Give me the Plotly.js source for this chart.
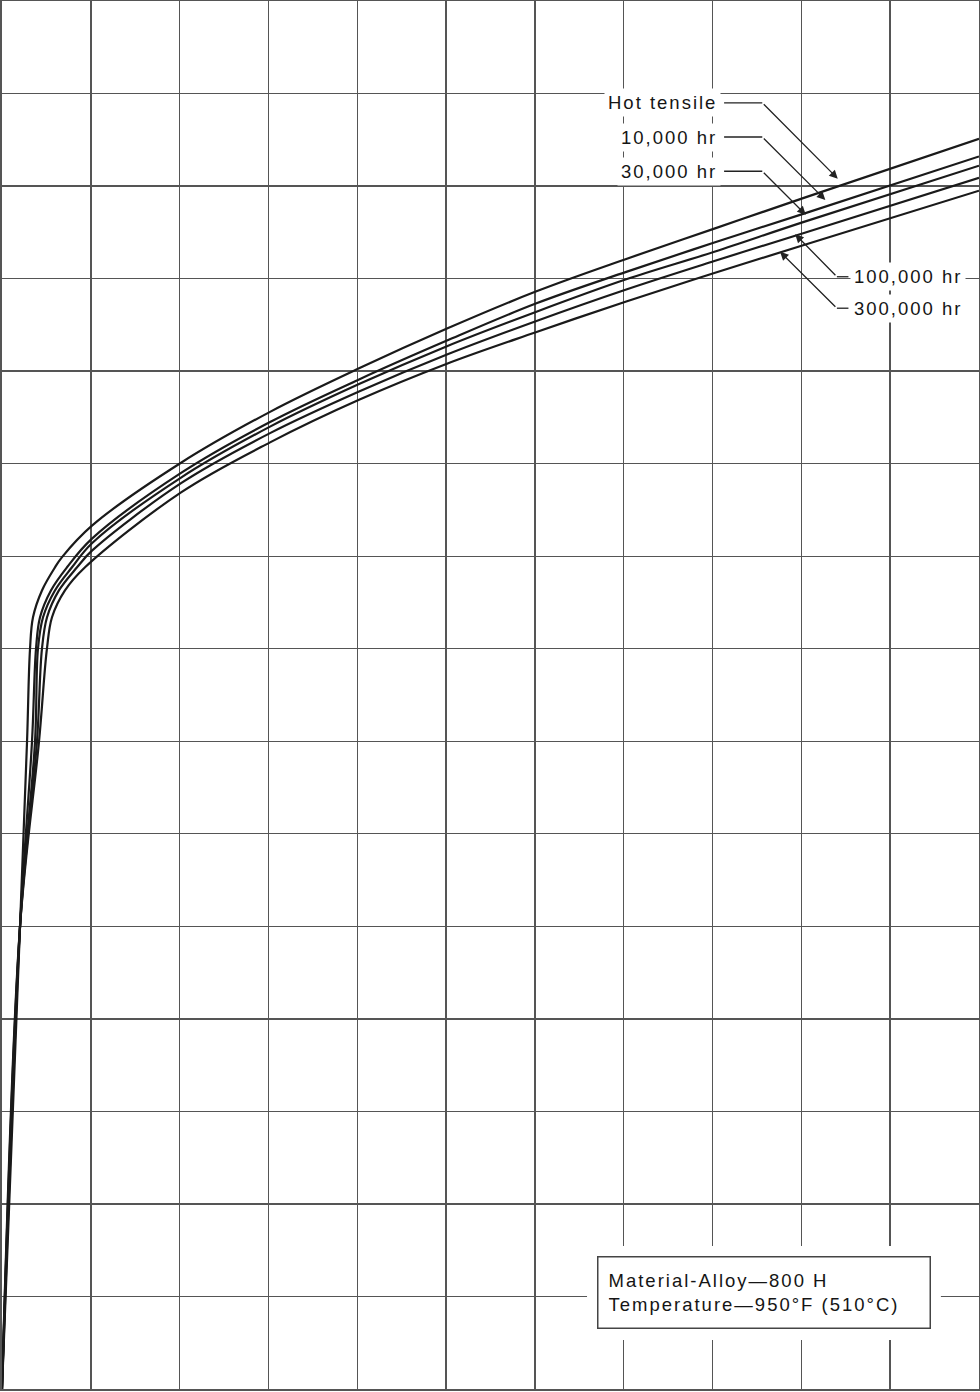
<!DOCTYPE html>
<html>
<head>
<meta charset="utf-8">
<script src="https://cdn.plot.ly/plotly-3.0.1.min.js"></script>
<style>
  html, body { margin: 0; padding: 0; background: #fff; }
  #chart { width: 980px; height: 1392px; }
  svg text { letter-spacing: 2px; }
</style>
</head>
<body>
<div id="chart"></div>
<script>
// Strain (grid units) and stress (grid units)
const hotStrain   = [0, 0.203, 0.282, 0.315, 0.349, 0.45, 0.597, 0.676, 1.013, 2.016, 3.018, 4.02, 5.01, 6.01, 7.02, 8.02, 9.02, 11.0];
const hotStress   = [0, 5.0, 7.0, 7.99, 8.34, 8.63, 8.88, 8.99, 9.33, 10.01, 10.56, 11.03, 11.46, 11.86, 12.21, 12.54, 12.87, 13.51];

const h10kStrain  = [0, 0.203, 0.338, 0.383, 0.428, 0.551, 0.732, 1.013, 2.016, 3.018, 4.02, 5.01, 6.01, 7.02, 8.02, 9.02, 11.0];
const h10kStress  = [0, 5.0, 7.0, 8.0, 8.34, 8.63, 8.88, 9.19, 9.90, 10.45, 10.91, 11.33, 11.73, 12.07, 12.39, 12.70, 13.32];

const h30kStrain  = [0, 0.203, 0.372, 0.405, 0.462, 0.596, 0.788, 1.013, 2.016, 3.018, 4.02, 5.01, 6.01, 7.02, 8.02, 9.02, 11.0];
const h30kStress  = [0, 5.0, 7.0, 8.0, 8.34, 8.63, 8.88, 9.14, 9.85, 10.40, 10.86, 11.27, 11.64, 11.99, 12.29, 12.61, 13.22];

const h100kStrain = [0, 0.203, 0.394, 0.45, 0.507, 0.641, 0.845, 1.013, 2.016, 3.018, 4.02, 5.01, 6.01, 7.02, 8.02, 9.02, 11.0];
const h100kStress = [0, 5.0, 7.0, 8.0, 8.34, 8.63, 8.88, 9.06, 9.79, 10.33, 10.78, 11.18, 11.54, 11.88, 12.19, 12.49, 13.09];

const h300kStrain = [0, 0.203, 0.417, 0.506, 0.563, 0.709, 0.935, 2.016, 3.018, 4.02, 5.01, 6.01, 7.02, 8.02, 9.02, 11.0];
const h300kStress = [0, 5.0, 7.0, 8.0, 8.34, 8.63, 8.88, 9.69, 10.23, 10.69, 11.08, 11.42, 11.75, 12.06, 12.36, 12.95];

const seriesNames = ["Hot tensile", "10,000 hr", "30,000 hr", "100,000 hr", "300,000 hr"];

// Curve labels: text anchor, leader start, elbow, arrow tip (data units)
const labelText   = ["Hot tensile", "10,000 hr", "30,000 hr", "100,000 hr", "300,000 hr"];
const labelX      = [8.09, 8.09, 8.09, 9.55, 9.55];
const labelY      = [13.9, 13.53, 13.16, 12.02, 11.68];
const labelSide   = ["right", "right", "right", "left", "left"];
const legStartX   = [8.13, 8.13, 8.13, 9.53, 9.53];
const elbowX      = [8.56, 8.56, 8.56, 9.40, 9.40];
const elbowY      = [13.9, 13.53, 13.16, 12.02, 11.68];
const tipX        = [9.41, 9.27, 9.05, 8.93, 8.76];
const tipY        = [13.08, 12.85, 12.69, 12.48, 12.29];

const noteLines = ["Material-Alloy\u2014800 H", "Temperature\u2014950\u00b0F (510\u00b0C)"];

const xs = [hotStrain, h10kStrain, h30kStrain, h100kStrain, h300kStrain];
const ys = [hotStress, h10kStress, h30kStress, h100kStress, h300kStress];

const traces = xs.map((x, i) => ({
  type: "scatter",
  mode: "lines",
  x: x,
  y: ys[i],
  name: seriesNames[i],
  line: { color: "#1a1a1a", width: 2.2, shape: "spline", smoothing: 1 },
  hoverinfo: "skip",
  cliponaxis: true
}));

const font = { family: "Liberation Sans, Arial, Helvetica, sans-serif", size: 18.5, color: "#151515" };

const annotations = [];
const shapes = [];

labelText.forEach((t, i) => {
  annotations.push({
    x: labelX[i], y: labelY[i], xref: "x", yref: "y",
    text: t, showarrow: false,
    xanchor: labelSide[i], yanchor: "middle",
    bgcolor: "#fff", borderpad: 3, font: font
  });
  shapes.push({
    type: "line", xref: "x", yref: "y",
    x0: legStartX[i], y0: elbowY[i], x1: elbowX[i], y1: elbowY[i],
    line: { color: "#222", width: 1.3 }, layer: "above"
  });
  annotations.push({
    x: tipX[i], y: tipY[i], xref: "x", yref: "y",
    ax: elbowX[i], ay: elbowY[i], axref: "x", ayref: "y",
    text: "", showarrow: true,
    arrowhead: 2, arrowsize: 1.3, arrowwidth: 1.3, arrowcolor: "#222", standoff: 0
  });
});

// white clearing around the note box
shapes.push({
  type: "rect", xref: "paper", yref: "paper",
  x0: 0.5988, x1: 0.961, y0: 0.0353, y1: 0.103,
  fillcolor: "#fff", line: { width: 0 }, layer: "above"
});

annotations.push({
  xref: "paper", yref: "paper", x: 0.609, y: 0.0958,
  xanchor: "left", yanchor: "top",
  text: noteLines.join("<br>"), align: "left", showarrow: false,
  width: 311, height: 50, borderpad: 10,
  bgcolor: "#fff", bordercolor: "#444", borderwidth: 1.5,
  font: font
});

const axisBase = {
  showgrid: true, gridcolor: "#555", gridwidth: 1.4,
  dtick: 1, tick0: 0,
  showticklabels: false, ticks: "",
  zeroline: false,
  showline: true, mirror: true, linecolor: "#555", linewidth: 2,
  fixedrange: true
};

const layout = {
  width: 980, height: 1392,
  margin: { l: 2, r: 1, t: 1, b: 3, pad: 0 },
  paper_bgcolor: "#fff", plot_bgcolor: "#fff",
  showlegend: false,
  xaxis: Object.assign({}, axisBase, { range: [0, 11] }),
  yaxis: Object.assign({}, axisBase, { range: [0, 15] }),
  annotations: annotations,
  shapes: shapes
};

Plotly.newPlot("chart", traces, layout, { staticPlot: true, displayModeBar: false });
</script>
</body>
</html>
